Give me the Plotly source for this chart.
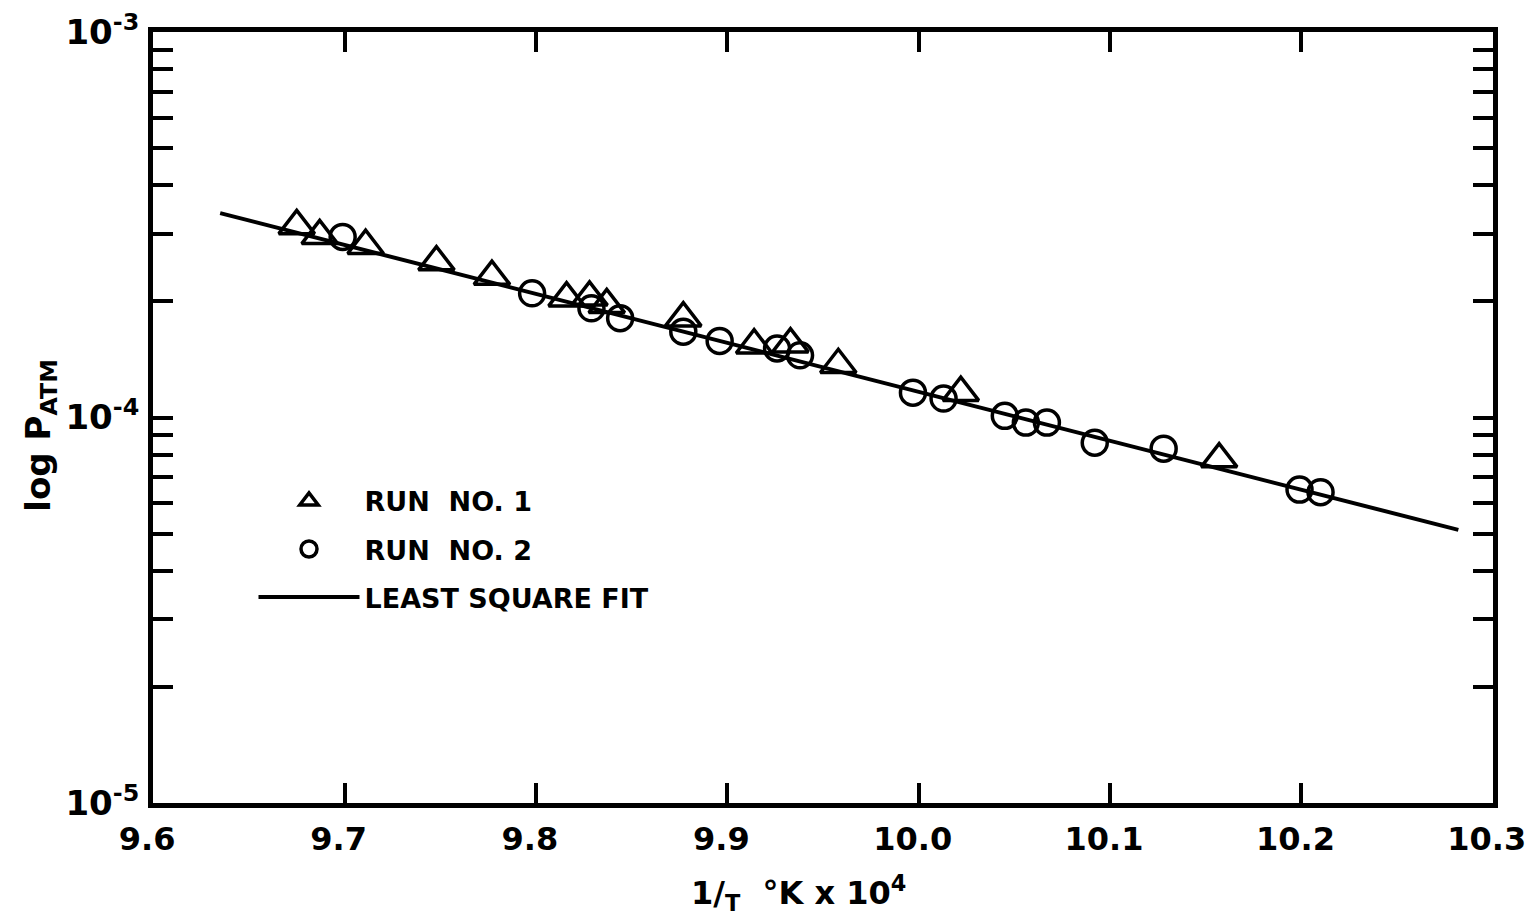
import plotly.graph_objects as go

# Run No. 1 (triangles)
run1_x = [9.675, 9.687, 9.711, 9.748, 9.777, 9.816, 9.828, 9.837, 9.877, 9.914, 9.933, 9.958, 10.022, 10.157]
run1_y = [3.14e-4, 2.96e-4, 2.79e-4, 2.53e-4, 2.32e-4, 2.04e-4, 2.05e-4, 1.96e-4, 1.81e-4, 1.54e-4, 1.55e-4, 1.37e-4, 1.16e-4, 7.8e-5]

# Run No. 2 (circles)
run2_x = [9.699, 9.798, 9.829, 9.844, 9.877, 9.896, 9.926, 9.938, 9.997, 10.013, 10.045, 10.056, 10.067, 10.092, 10.128, 10.199, 10.210]
run2_y = [2.94e-4, 2.10e-4, 1.92e-4, 1.81e-4, 1.67e-4, 1.58e-4, 1.51e-4, 1.45e-4, 1.16e-4, 1.12e-4, 1.01e-4, 9.7e-5, 9.7e-5, 8.6e-5, 8.3e-5, 6.5e-5, 6.4e-5]

# Least square fit line endpoints
fit_x = [9.635, 10.282]
fit_y = [3.39e-4, 5.11e-5]

x_ticks = [9.6, 9.7, 9.8, 9.9, 10.0, 10.1, 10.2, 10.3]
x_ticktext = ["9.6", "9.7", "9.8", "9.9", "10.0", "10.1", "10.2", "10.3"]

decades = [1e-5, 1e-4, 1e-3]
decade_labels = ["10<sup>-5</sup>", "10<sup>-4</sup>", "10<sup>-3</sup>"]

x_title = "1/<sub>T</sub>  °K x 10<sup>4</sup>"
y_title = "log P<sub>ATM</sub>"

# minor log ticks carry no label
y_tickvals = []
for d in decades:
    for m in range(1, 10):
        v = d * m
        if v > 1.0001e-3:
            break
        y_tickvals.append(v)

FONT = "DejaVu Sans"

fig = go.Figure()
fig.add_trace(go.Scatter(
    x=run1_x, y=run1_y, mode="markers", name="RUN  NO. 1",
    legendgroup="a",
    marker=dict(symbol="triangle-up-open", size=31, color="black", line=dict(width=3.5, color="black")),
))
fig.add_trace(go.Scatter(
    x=run2_x, y=run2_y, mode="markers", name="RUN  NO. 2",
    legendgroup="b",
    marker=dict(symbol="circle-open", size=25, color="black", line=dict(width=3.5, color="black")),
))
fig.add_trace(go.Scatter(
    x=fit_x, y=fit_y, mode="lines", name="LEAST SQUARE FIT",
    legendgroup="c",
    line=dict(color="black", width=4),
))

axis_common = dict(
    showline=True, linecolor="black", linewidth=5, mirror="allticks",
    ticks="inside", ticklen=20, tickwidth=4, tickcolor="black",
    showgrid=False, zeroline=False, automargin=False,
    ticklabeloverflow="allow",
)

fig.update_layout(
    width=1527, height=915,
    margin=dict(l=145, r=42, t=24, b=120),
    paper_bgcolor="white", plot_bgcolor="white",
    font=dict(family=FONT, color="black"),
    showlegend=True,
    legend=dict(
        x=0.075, y=0.423, xanchor="left", yanchor="top",
        bgcolor="rgba(0,0,0,0)",
        font=dict(family=FONT, size=27, color="black", weight="bold"),
        traceorder="grouped", tracegroupgap=10, itemwidth=101,
    ),
    xaxis=dict(
        range=[9.5999, 10.3001], tickvals=x_ticks, ticktext=x_ticktext,
        ticklabelstandoff=4, ticklabelshift=-6,
        tickfont=dict(family=FONT, size=32, color="black", weight="bold"),
        **axis_common,
    ),
    yaxis=dict(
        type="log", range=[-5, -3], tickvals=decades, ticktext=decade_labels,
        ticklabelstandoff=2,
        tickfont=dict(family=FONT, size=34, color="black", weight="bold"),
        minor=dict(tickvals=y_tickvals, ticks="inside", ticklen=20, tickwidth=4, tickcolor="black", showgrid=False),
        **axis_common,
    ),
    annotations=[
        dict(
            text=x_title, xref="paper", yref="paper", x=0.482, y=-0.117,
            xanchor="center", yanchor="middle", showarrow=False,
            font=dict(family=FONT, size=32, color="black", weight="bold"),
        ),
        dict(
            text=y_title, xref="paper", yref="paper", x=-0.084, y=0.477,
            xanchor="center", yanchor="middle", showarrow=False, textangle=-90,
            font=dict(family=FONT, size=34, color="black", weight="bold"),
        ),
    ],
)

fig.write_html("out.html")
